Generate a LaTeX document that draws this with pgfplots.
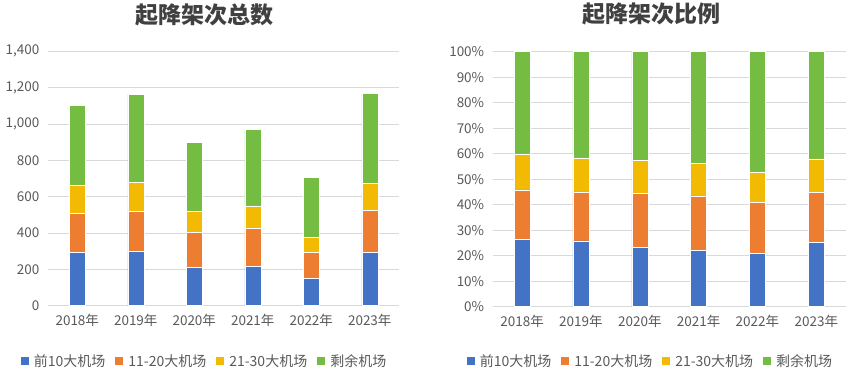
\documentclass[border=0pt]{standalone}
\usepackage{fontspec}
\setmainfont{Noto Sans CJK SC}
\usepackage{pgfplots}
\pgfplotsset{compat=1.18}
\definecolor{cblue}{HTML}{4472C4}
\definecolor{corange}{HTML}{ED7D31}
\definecolor{cyellow}{HTML}{F2BA02}
\definecolor{cgreen}{HTML}{75BD42}
\definecolor{ctext}{HTML}{595959}
\definecolor{ctitle}{HTML}{404040}
\definecolor{cgrid}{HTML}{D9D9D9}
\pgfplotsset{
  mystyle/.style={
    scale only axis,
    ybar stacked,
    bar width=16pt,
    xmin=-0.5, xmax=5.5,
    xtick={0,1,2,3,4,5},
    xticklabels={2018年,2019年,2020年,2021年,2022年,2023年},
    axis line style={draw=none},
    ymajorgrids,
    grid style={cgrid, line width=0.9pt},
    major tick length=0pt,
    tick label style={font=\fontsize{13.5}{15}\selectfont, text=ctext},
    xticklabel style={yshift=-5pt},
    yticklabel style={xshift=-5pt},
    /pgf/number format/assume math mode=true,
    every axis plot/.append style={draw=white, line width=0.5pt},
    legend columns=4,
    legend style={draw=none, fill=none, font=\fontsize{14}{16}\selectfont, text=ctext,
      /tikz/every odd column/.append style={column sep=3pt},
      /tikz/every even column/.append style={column sep=8pt}},
    legend image code/.code={\fill[##1,draw=none] (0pt,-4pt) rectangle (8pt,4pt);},
  }
}
\begin{document}
\begin{tikzpicture}
\path[use as bounding box] (0pt,0pt) rectangle (850pt,386pt);
\node[font=\fontsize{23}{26}\selectfont\bfseries, text=ctitle] at (204pt,371pt) {起降架次总数};
\node[font=\fontsize{23}{26}\selectfont\bfseries, text=ctitle] at (651pt,372pt) {起降架次比例};
\begin{axis}[mystyle,
  at={(48pt,80.3pt)}, anchor=south west,
  width=351pt, height=254.4pt,
  ymin=0, ymax=1400, ytick={0,200,...,1400},
  yticklabel style={/pgf/number format/.cd, 1000 sep={,}},
  legend style={at={(0.446,-0.217)}, anchor=center},
]
\addplot[fill=cblue] coordinates {(0,294) (1,299) (2,211) (3,217) (4,149) (5,294)};
\addplot[fill=corange] coordinates {(0,214) (1,222) (2,193) (3,207) (4,143) (5,231)};
\addplot[fill=cyellow] coordinates {(0,156) (1,156) (2,117) (3,126) (4,86) (5,150)};
\addplot[fill=cgreen] coordinates {(0,439) (1,486) (2,376) (3,422) (4,330) (5,492)};
\legend{前10大机场,11-20大机场,21-30大机场,剩余机场}
\end{axis}
\begin{axis}[mystyle,
  at={(492.7pt,79.3pt)}, anchor=south west,
  width=353pt, height=255pt,
  ymin=0, ymax=100, ytick={0,10,...,100},
  yticklabel={\pgfmathprintnumber{\tick}\%},
  legend style={at={(0.447,-0.213)}, anchor=center},
]
\addplot[fill=cblue] coordinates {(0,26.5) (1,25.8) (2,23.4) (3,22.2) (4,20.9) (5,25.2)};
\addplot[fill=corange] coordinates {(0,19.3) (1,19.2) (2,21.0) (3,21.3) (4,20.0) (5,19.6)};
\addplot[fill=cyellow] coordinates {(0,14.1) (1,13.4) (2,12.9) (3,12.6) (4,11.8) (5,13.2)};
\addplot[fill=cgreen] coordinates {(0,40.1) (1,41.6) (2,42.7) (3,43.9) (4,47.3) (5,42.0)};
\legend{前10大机场,11-20大机场,21-30大机场,剩余机场}
\end{axis}
\end{tikzpicture}
\end{document}
